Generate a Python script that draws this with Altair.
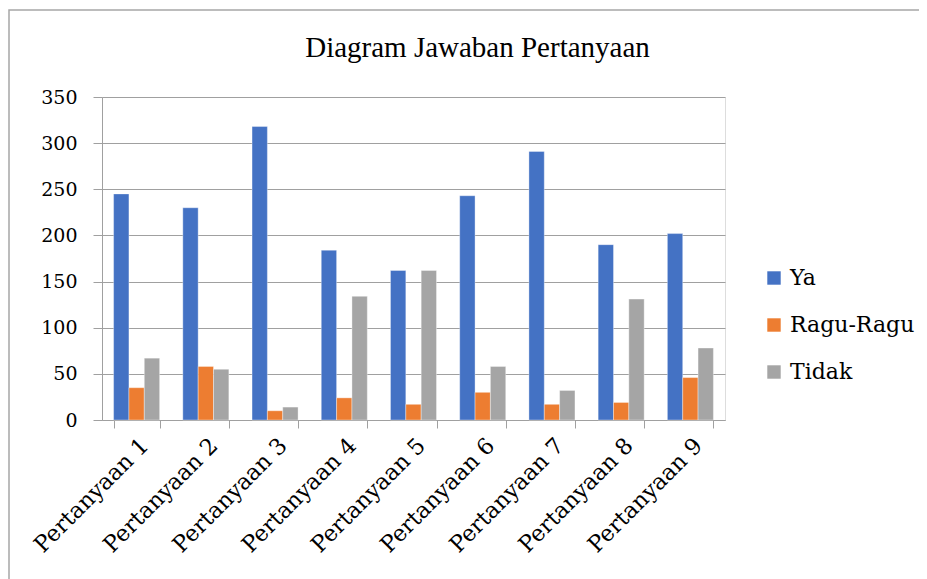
import altair as alt
import pandas as pd

categories = ["Pertanyaan 1", "Pertanyaan 2", "Pertanyaan 3", "Pertanyaan 4", "Pertanyaan 5",
              "Pertanyaan 6", "Pertanyaan 7", "Pertanyaan 8", "Pertanyaan 9"]
series = ["Ya", "Ragu-Ragu", "Tidak"]
ya = [245, 230, 318, 184, 162, 243, 291, 190, 202]
ragu = [35, 58, 10, 24, 17, 30, 17, 19, 46]
tidak = [67, 55, 14, 134, 162, 58, 32, 131, 78]
colors = ["#4472C4", "#ED7D31", "#A5A5A5"]

rows = []
for i, c in enumerate(categories):
    for s, vals in zip(series, [ya, ragu, tidak]):
        rows.append({"Pertanyaan": c, "Jawaban": s, "Jumlah": vals[i]})
df = pd.DataFrame(rows)

W, H = 623, 323

bars = alt.Chart(df).mark_bar(stroke="white", strokeWidth=0.6, strokeOpacity=0.6).encode(
    x=alt.X("Pertanyaan:N", sort=categories, title=None,
            scale=alt.Scale(paddingInner=0.335, paddingOuter=0.1675),
            axis=alt.Axis(labelAngle=-45, tickBand="extent", tickSize=8, labelPadding=6,
                          labelFont="DejaVu Serif", labelFontSize=22.5, labelColor="#000000",
                          domainColor="#A0A0A0", tickColor="#A0A0A0", grid=False)),
    xOffset=alt.XOffset("Jawaban:N", sort=series, scale=alt.Scale(paddingInner=0, paddingOuter=0)),
    y=alt.Y("Jumlah:Q", title=None,
            scale=alt.Scale(domain=[0, 350], nice=False),
            axis=alt.Axis(values=[0, 50, 100, 150, 200, 250, 300, 350], tickSize=9, labelPadding=16,
                          labelFont="DejaVu Serif", labelFontSize=19, labelColor="#000000",
                          domainColor="#A0A0A0", tickColor="#A0A0A0",
                          gridColor="#A0A0A0", gridWidth=1.2)),
    color=alt.Color("Jawaban:N", sort=series,
                    scale=alt.Scale(domain=series, range=colors),
                    legend=alt.Legend(title=None, orient="none", legendX=661, legendY=170,
                                      symbolType="square", symbolSize=180, symbolStrokeWidth=0,
                                      labelFont="DejaVu Serif", labelFontSize=22, labelColor="#000000",
                                      rowPadding=25, labelOffset=5)),
)

border = alt.Chart(pd.DataFrame({"a": [0]})).mark_rect(
    fill=None, stroke="#A6A6A6", strokeWidth=1.5, clip=False
).encode(
    x=alt.value(-93), x2=alt.value(900), y=alt.value(-87), y2=alt.value(700)
)

chart = alt.layer(border, bars).properties(
    width=W, height=H,
    title=alt.TitleParams("Diagram Jawaban Pertanyaan", font="Liberation Serif", fontSize=29,
                          fontWeight="normal", color="#000000", anchor="middle", dx=64, offset=-54),
    autosize=alt.AutoSizeParams(type="none"),
    padding={"left": 94, "top": 89, "right": 194, "bottom": 159},
).configure_view(stroke=None).configure(background="white")

chart.save("out.html", embed_options={"renderer": "svg", "actions": False})
